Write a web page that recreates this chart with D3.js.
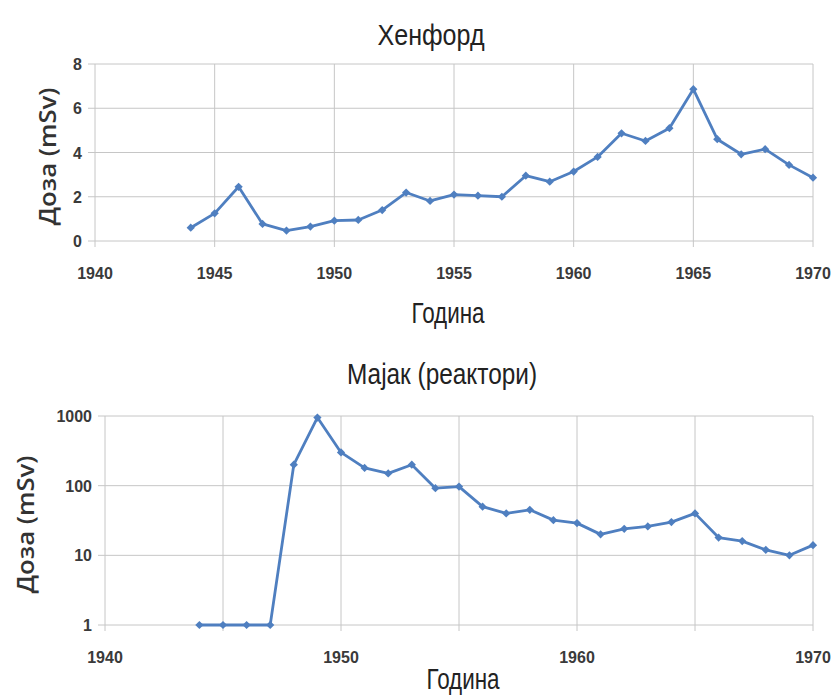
<!DOCTYPE html>
<html>
<head>
<meta charset="utf-8">
<script src="https://cdn.jsdelivr.net/npm/d3@7"></script>
<style>
  body { margin: 0; background: #fff; }
  svg { display: block; }
  .grid line { stroke: #c6c6c6; stroke-width: 1; }
  .tick { font-family: "Liberation Sans", Arial, sans-serif; font-weight: bold; font-size: 16px; fill: #3a3a3a; }
  .title { font-family: "Liberation Sans Narrow", "Liberation Sans", Arial, sans-serif; font-size: 29px; fill: #222; }
  .ylab { font-family: "Open Sans", "Liberation Sans", sans-serif; font-weight: 600; font-size: 24px; fill: #333; }
</style>
</head>
<body>
<svg id="chart" width="837" height="696"></svg>
<script>
// ─── Data ────────────────────────────────────────────────
const years = [1944, 1945, 1946, 1947, 1948, 1949, 1950, 1951, 1952, 1953, 1954, 1955, 1956, 1957,
  1958, 1959, 1960, 1961, 1962, 1963, 1964, 1965, 1966, 1967, 1968, 1969, 1970];
const hanfordDose = [0.6, 1.25, 2.45, 0.77, 0.47, 0.65, 0.92, 0.95, 1.4, 2.19, 1.81, 2.1, 2.05, 2.0,
  2.95, 2.68, 3.14, 3.8, 4.87, 4.52, 5.1, 6.86, 4.6, 3.92, 4.15, 3.44, 2.86];
const mayakDose = [1, 1, 1, 1, 200, 950, 300, 180, 150, 200, 92, 97, 50, 40,
  45, 32, 29, 20, 24, 26, 30, 40, 18, 16, 12, 10, 14];
const hanfordYTicks = [0, 2, 4, 6, 8];
const mayakYTicks = [1, 10, 100, 1000];
const gridYears = [1940, 1945, 1950, 1955, 1960, 1965, 1970];
const topXLabels = [1940, 1945, 1950, 1955, 1960, 1965, 1970];
const bottomXLabels = [1940, 1950, 1960, 1970];

const lineColor = '#4f7fc0';
const svg = d3.select('#chart');

// ─── Panel helper ────────────────────────────────────────
function panel({ x0, x1, yTop, yBot, y, yTicks, xLabels, values, title, titleY, titleX, titleW, ylabX, xlabY, xlabX, tickLabY }) {
  const x = d3.scaleLinear().domain([1940, 1970]).range([x0, x1]);
  y.range([yBot, yTop]);
  const g = svg.append('g');

  // gridlines + outward ticks
  g.append('g').attr('class', 'grid')
    .selectAll('line').data(gridYears).join('line')
    .attr('x1', d => x(d)).attr('x2', d => x(d))
    .attr('y1', yTop).attr('y2', yBot + 6);
  g.append('g').attr('class', 'grid')
    .selectAll('line').data(yTicks).join('line')
    .attr('x1', x0 - 7).attr('x2', x1)
    .attr('y1', d => y(d)).attr('y2', d => y(d));

  // tick labels
  g.selectAll('text.yt').data(yTicks).join('text')
    .attr('class', 'tick yt')
    .attr('x', x0 - 13).attr('y', d => y(d) + 6)
    .attr('text-anchor', 'end')
    .text(d => d);
  g.selectAll('text.xt').data(xLabels).join('text')
    .attr('class', 'tick xt')
    .attr('x', d => x(d)).attr('y', tickLabY)
    .attr('text-anchor', 'middle')
    .text(d => d);

  // series
  const pts = years.map((yr, i) => [yr, values[i]]);
  g.append('path').datum(pts)
    .attr('fill', 'none').attr('stroke', lineColor).attr('stroke-width', 2.8)
    .attr('stroke-linejoin', 'round')
    .attr('d', d3.line().x(d => x(d[0])).y(d => y(d[1])));
  g.selectAll('path.m').data(pts).join('path')
    .attr('class', 'm')
    .attr('transform', d => `translate(${x(d[0])},${y(d[1])}) rotate(45)`)
    .attr('d', d3.symbol(d3.symbolSquare, 34))
    .attr('fill', lineColor);

  // titles
  g.append('text').attr('class', 'title')
    .attr('x', titleX).attr('y', titleY)
    .attr('text-anchor', 'middle')
    .attr('textLength', titleW).attr('lengthAdjust', 'spacingAndGlyphs')
    .text(title);
  g.append('text').attr('class', 'title')
    .attr('x', xlabX).attr('y', xlabY)
    .attr('text-anchor', 'middle')
    .attr('textLength', 73).attr('lengthAdjust', 'spacingAndGlyphs')
    .text('Година');
  g.append('text').attr('class', 'ylab')
    .attr('transform', `translate(${ylabX},${(yTop + yBot) / 2 + 4}) rotate(-90)`)
    .attr('text-anchor', 'middle')
    .attr('textLength', 138).attr('lengthAdjust', 'spacingAndGlyphs')
    .text('Доза (mSv)');
}

panel({
  x0: 95, x1: 813, yTop: 64, yBot: 241,
  y: d3.scaleLinear().domain([0, 8]),
  yTicks: hanfordYTicks, xLabels: topXLabels, values: hanfordDose,
  title: 'Хенфорд', titleX: 431, titleY: 45, titleW: 107,
  ylabX: 56, xlabX: 448, xlabY: 323, tickLabY: 279
});

panel({
  x0: 105, x1: 813, yTop: 416, yBot: 625,
  y: d3.scaleLog().domain([1, 1000]),
  yTicks: mayakYTicks, xLabels: bottomXLabels, values: mayakDose,
  title: 'Мајак (реактори)', titleX: 442, titleY: 384, titleW: 190,
  ylabX: 34, xlabX: 463, xlabY: 689, tickLabY: 663
});
</script>
</body>
</html>
